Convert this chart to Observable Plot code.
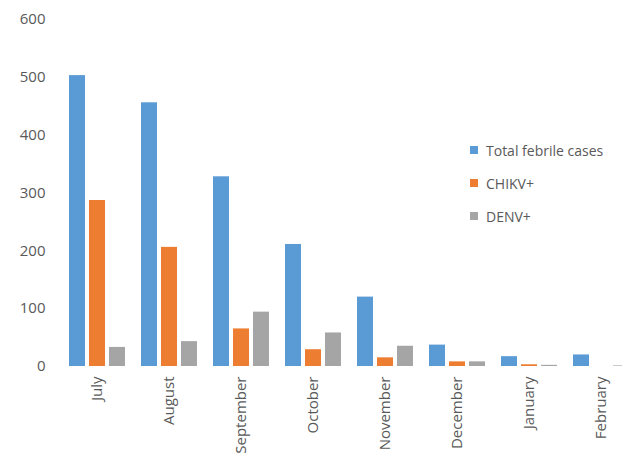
<!DOCTYPE html>
<html>
<head>
<meta charset="utf-8">
<script src="https://cdn.jsdelivr.net/npm/d3@7"></script>
<script src="https://cdn.jsdelivr.net/npm/@observablehq/plot@0.6"></script>
<style>
  html, body { margin: 0; padding: 0; background: #fff; overflow: hidden; }
  #wrap { position: relative; width: 622px; height: 454px; }
  #legend { position: absolute; left: 470px; top: 140px; font-family: "Open Sans", sans-serif; font-size: 14px; color: #595959; }
  #legend .item { display: flex; align-items: center; height: 20px; margin-bottom: 13px; }
  #legend .sw { width: 8px; height: 8px; margin-right: 8px; }
</style>
</head>
<body>
<div id="wrap"><div id="legend"></div></div>
<script>
const months = ["July", "August", "September", "October", "November", "December", "January", "February"];
const seriesNames = ["Total febrile cases", "CHIKV+", "DENV+"];
const totalFebrile = [503, 456, 328, 211, 120, 37, 17, 20];
const chikv = [287, 206, 65, 29, 15, 8, 3, 0];
const denv = [33, 43, 94, 58, 35, 8, 2, 1];
const yTicks = [0, 100, 200, 300, 400, 500, 600];
const colors = ["#5B9BD5", "#ED7D31", "#A5A5A5"];

const seriesValues = [totalFebrile, chikv, denv];
const data = [];
months.forEach((m, i) => {
  seriesNames.forEach((s, j) => data.push({month: m, series: s, value: seriesValues[j][i]}));
});

const chart = Plot.plot({
  width: 622,
  height: 454,
  marginTop: 19,
  marginBottom: 88,
  marginLeft: 58,
  marginRight: -18,
  style: {fontFamily: "'Open Sans', sans-serif", fontSize: "15px", color: "#595959", overflow: "visible"},
  fx: {domain: months, paddingInner: 0.2, paddingOuter: 0.1, label: null},
  x: {domain: seriesNames, paddingInner: 0.2, paddingOuter: 0.05, axis: null},
  y: {domain: [0, 600], ticks: yTicks, label: null},
  color: {domain: seriesNames, range: colors},
  marks: [
    Plot.axisY({ticks: yTicks, tickSize: 0, tickPadding: 23, label: null, fontSize: 15}),
    Plot.axisFx({anchor: "bottom", tickSize: 0, tickPadding: 10, tickRotate: -90, label: null, fontSize: 15}),
    Plot.barY(data, {fx: "month", x: "series", y: "value", fill: "series"})
  ]
});
document.getElementById("wrap").prepend(chart);

const legend = document.getElementById("legend");
seriesNames.forEach((s, j) => {
  const it = document.createElement("div");
  it.className = "item";
  const sw = document.createElement("div");
  sw.className = "sw";
  sw.style.background = colors[j];
  const t = document.createElement("span");
  t.textContent = s;
  it.append(sw, t);
  legend.append(it);
});
</script>
</body>
</html>
